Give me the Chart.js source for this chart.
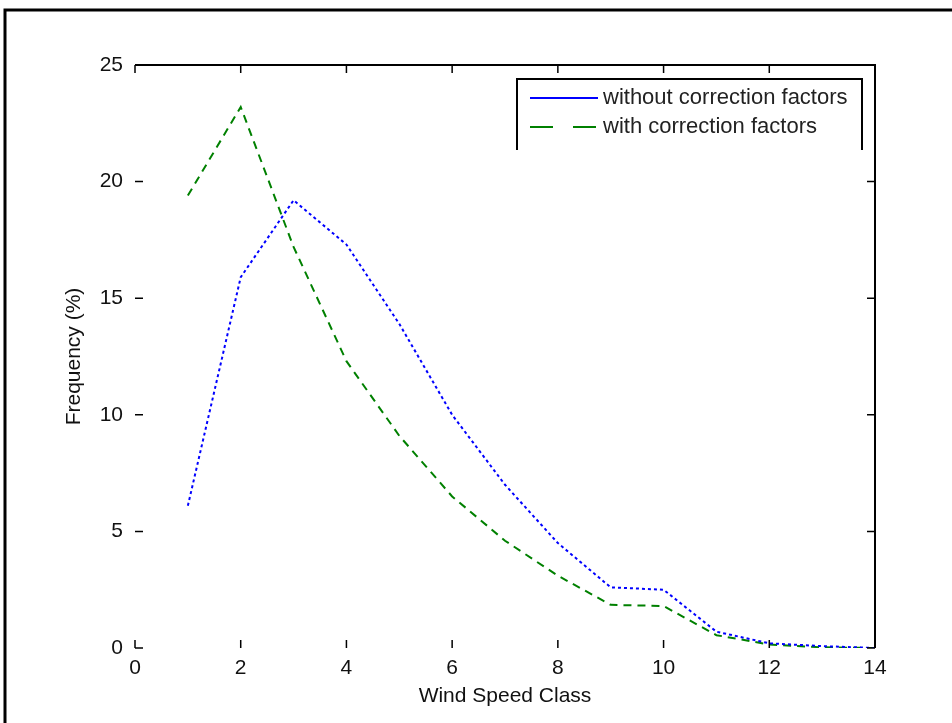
<!DOCTYPE html>
<html>
<head>
<meta charset="utf-8">
<script src="https://cdn.jsdelivr.net/npm/chart.js@4/dist/chart.umd.min.js"></script>
<style>
  body { margin: 0; background: #fff; }
  canvas { display: block; }
</style>
</head>
<body>
<canvas id="windchart" width="952" height="723"></canvas>
<script>
// wind speed classes and frequencies (%)
var speedClass = [1, 2, 3, 4, 5, 6, 7, 8, 9, 10, 11, 12, 13, 14];
var withoutCorrection = [6.1, 15.9, 19.2, 17.3, 13.9, 10.0, 7.0, 4.5, 2.6, 2.5, 0.7, 0.2, 0.08, 0];
var withCorrection = [19.4, 23.2, 17.2, 12.3, 9.1, 6.5, 4.6, 3.1, 1.85, 1.8, 0.55, 0.15, 0.03, 0];
var xTicks = [0, 2, 4, 6, 8, 10, 12, 14];
var yTicks = [0, 5, 10, 15, 20, 25];

var FONT = "'Liberation Sans', Arial, sans-serif";

function toPoints(vals) {
    var pts = [];
    for (var i in vals) {
        pts.push({x: speedClass[i], y: vals[i]});
    }
    return pts;
}

// matlab style frame: figure border, top/right axis lines, inward ticks, legend box
var matlabFrame = {
    id: 'matlabFrame',
    afterDraw: function(chart) {
        var ctx = chart.ctx;
        var a = chart.chartArea;
        var xs = chart.scales.x, ys = chart.scales.y;
        ctx.save();
        ctx.strokeStyle = '#000';

        // outer figure border
        ctx.lineWidth = 3;
        ctx.beginPath();
        ctx.moveTo(5, 730);
        ctx.lineTo(5, 10);
        ctx.lineTo(960, 10);
        ctx.stroke();

        // top and right axis lines
        ctx.lineWidth = 2;
        ctx.beginPath();
        ctx.moveTo(a.left, a.top);
        ctx.lineTo(a.right, a.top);
        ctx.lineTo(a.right, a.bottom);
        ctx.stroke();

        // inward ticks
        ctx.lineWidth = 1.5;
        ctx.beginPath();
        xTicks.forEach(function(v) {
            var px = xs.getPixelForValue(v);
            ctx.moveTo(px, a.bottom); ctx.lineTo(px, a.bottom - 8);
            ctx.moveTo(px, a.top); ctx.lineTo(px, a.top + 8);
        });
        yTicks.forEach(function(v) {
            var py = ys.getPixelForValue(v);
            ctx.moveTo(a.left, py); ctx.lineTo(a.left + 8, py);
            ctx.moveTo(a.right, py); ctx.lineTo(a.right - 8, py);
        });
        ctx.stroke();

        // legend
        var lx = 517, ly = 79, lw = 345, lh = 71;
        ctx.fillStyle = '#fff';
        ctx.fillRect(lx, ly, lw, lh);
        ctx.lineWidth = 2;
        ctx.beginPath();
        ctx.moveTo(lx, ly + lh);
        ctx.lineTo(lx, ly);
        ctx.lineTo(lx + lw, ly);
        ctx.lineTo(lx + lw, ly + lh);
        ctx.stroke();

        var rows = [
            {label: chart.data.datasets[0].label, color: '#0000ff', dash: [], y: 98},
            {label: chart.data.datasets[1].label, color: '#008000', dash: [23, 20], y: 127}
        ];
        ctx.font = '22px ' + FONT;
        ctx.textBaseline = 'middle';
        rows.forEach(function(r) {
            ctx.strokeStyle = r.color;
            ctx.lineWidth = 2;
            ctx.setLineDash(r.dash);
            ctx.beginPath();
            ctx.moveTo(530, r.y);
            ctx.lineTo(598, r.y);
            ctx.stroke();
            ctx.setLineDash([]);
            ctx.fillStyle = '#222';
            ctx.fillText(r.label, 603, r.y);
        });
        ctx.restore();
    }
};

var ctx = document.getElementById('windchart').getContext('2d');
var chart = new Chart(ctx, {
    type: 'line',
    data: {
        datasets: [{
            label: 'without correction factors',
            data: toPoints(withoutCorrection),
            borderColor: '#0000ff',
            backgroundColor: '#0000ff',
            borderWidth: 2,
            borderDash: [3, 3],
            pointRadius: 0,
            fill: false,
            tension: 0
        }, {
            label: 'with correction factors',
            data: toPoints(withCorrection),
            borderColor: '#008000',
            backgroundColor: '#008000',
            borderWidth: 2,
            borderDash: [8, 6],
            pointRadius: 0,
            fill: false,
            tension: 0
        }]
    },
    options: {
        responsive: false,
        animation: false,
        layout: {padding: {left: 0, top: 65, right: 77, bottom: 0}},
        plugins: {legend: {display: false}, tooltip: {enabled: false}},
        scales: {
            x: {
                type: 'linear',
                min: 0, max: 14,
                afterFit: function(s) { s.height = 75; },
                afterBuildTicks: function(s) { s.ticks = xTicks.map(function(v) { return {value: v}; }); },
                grid: {display: false, drawTicks: false},
                border: {display: false},
                ticks: {color: '#111', padding: 8, maxRotation: 0, font: {family: FONT, size: 21}},
                title: {display: true, text: 'Wind Speed Class', color: '#111',
                        padding: {top: 0, bottom: 14}, font: {family: FONT, size: 21}}
            },
            y: {
                type: 'linear',
                min: 0, max: 25,
                afterFit: function(s) { s.width = 135; },
                afterBuildTicks: function(s) { s.ticks = yTicks.map(function(v) { return {value: v}; }); },
                grid: {display: false, drawTicks: false},
                border: {display: false},
                ticks: {color: '#111', padding: 12, font: {family: FONT, size: 21}},
                title: {display: true, text: 'Frequency (%)', color: '#111',
                        padding: {top: 62, bottom: 0}, font: {family: FONT, size: 21}}
            }
        }
    },
    plugins: [matlabFrame]
});
</script>
</body>
</html>
